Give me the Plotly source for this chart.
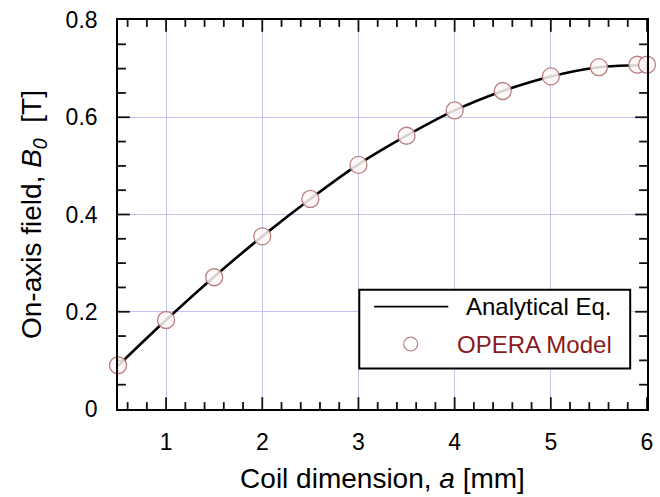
import plotly.graph_objects as go

# Coil dimension a [mm] and on-axis field B0 [T]
coil_a = [0.5, 1.0, 1.5, 2.0, 2.5, 3.0, 3.5, 4.0, 4.5, 5.0, 5.5, 5.9, 6.0]
b0_analytical = [0.089, 0.183, 0.272, 0.355, 0.432, 0.503, 0.562, 0.614, 0.654, 0.684, 0.703, 0.707, 0.708]
b0_opera = [0.090, 0.183, 0.271, 0.355, 0.432, 0.502, 0.562, 0.614, 0.654, 0.684, 0.703, 0.708, 0.708]

x_major = [1, 2, 3, 4, 5, 6]
y_major = [0, 0.2, 0.4, 0.6, 0.8]
y_labels = ["0", "0.2", "0.4", "0.6", "0.8"]
x_minor = [round(0.6 + 0.2 * i, 1) for i in range(27) if round(0.6 + 0.2 * i, 1) % 1 != 0]
y_minor = [round(0.05 * i, 2) for i in range(1, 16) if i % 4 != 0]

X_RANGE = [0.5, 6.0]
Y_RANGE = [0.0, 0.8]

FONT = "Liberation Sans, Arial, sans-serif"
GRID = "#c4c4f4"
OPERA_TEXT = "#8b1a1a"
MARKER_EDGE = "#b98080"

W, H = 660, 497
M_L, M_R, M_T, M_B = 118, 7, 14, 88
PLOT_W = W - M_L - M_R
PLOT_H = H - M_T - M_B


def px_x(p):
    """Horizontal pixel position -> paper coordinate."""
    return (p - M_L) / PLOT_W


def px_y(p):
    """Vertical pixel position (from top) -> paper coordinate."""
    return (H - M_B - p) / PLOT_H


# Tick lengths in pixels converted to axis units
def dx(px):
    return px * (X_RANGE[1] - X_RANGE[0]) / PLOT_W


def dy(px):
    return px * (Y_RANGE[1] - Y_RANGE[0]) / PLOT_H


# Inward tick marks on all four frame edges, as one polyline with gaps
tick_x, tick_y = [], []
for vals, length in ((x_major, 12), (x_minor, 7)):
    for v in vals:
        tick_x += [v, v, None, v, v, None]
        tick_y += [Y_RANGE[0], Y_RANGE[0] + dy(length), None,
                   Y_RANGE[1], Y_RANGE[1] - dy(length), None]
for vals, length in ((y_major[1:-1], 12), (y_minor, 8)):
    for v in vals:
        tick_x += [X_RANGE[0], X_RANGE[0] + dx(length), None,
                   X_RANGE[1], X_RANGE[1] - dx(length), None]
        tick_y += [v, v, None, v, v, None]

fig = go.Figure()
fig.add_trace(go.Scatter(
    x=tick_x, y=tick_y, mode="lines", line=dict(color="#111111", width=1.8),
    hoverinfo="skip", showlegend=False, connectgaps=False,
))
fig.add_trace(go.Scatter(
    x=coil_a, y=b0_analytical, mode="lines", name="Analytical Eq.",
    line=dict(color="black", width=2.6, shape="spline"),
    showlegend=False,
))
fig.add_trace(go.Scatter(
    x=coil_a, y=b0_opera, mode="markers", name="OPERA Model",
    marker=dict(symbol="circle", size=17, color="rgba(255,247,247,0.85)",
                line=dict(color=MARKER_EDGE, width=1.3)),
    cliponaxis=False, showlegend=False,
))

axis_common = dict(
    showline=True, linecolor="black", linewidth=1.6, mirror=True,
    ticks="", showgrid=True, gridcolor=GRID, gridwidth=1, zeroline=False,
    tickfont=dict(family=FONT, size=23, color="black"),
)

fig.update_xaxes(
    range=X_RANGE, tickvals=x_major, ticktext=[str(v) for v in x_major],
    ticklabelstandoff=12,
    title=dict(text="Coil dimension, <i>a</i> [mm]",
               font=dict(family=FONT, size=28, color="black"), standoff=14),
    **axis_common,
)
fig.update_yaxes(
    range=Y_RANGE, tickvals=y_major, ticktext=y_labels,
    ticklabelstandoff=14,
    title=dict(text="On-axis field, <i>B</i><sub><i>0</i></sub>  [T]",
               font=dict(family=FONT, size=28, color="black"), standoff=16),
    **axis_common,
)

# Legend box drawn in paper space
legend_shapes = [
    dict(type="rect", xref="paper", yref="paper",
         x0=px_x(362), x1=px_x(636), y0=px_y(368), y1=px_y(288),
         fillcolor="white", line=dict(color="black", width=2), layer="above"),
    dict(type="line", xref="paper", yref="paper",
         x0=px_x(377), x1=px_x(452), y0=px_y(305), y1=px_y(305),
         line=dict(color="black", width=1.8), layer="above"),
    dict(type="circle", xref="paper", yref="paper",
         x0=px_x(407), x1=px_x(421), y0=px_y(350), y1=px_y(336),
         fillcolor="white", line=dict(color=MARKER_EDGE, width=1.2), layer="above"),
]
legend_labels = [
    dict(text="Analytical Eq.", x=px_x(619), y=px_y(305), color="black"),
    dict(text="OPERA Model", x=px_x(620), y=px_y(343), color=OPERA_TEXT),
]
annotations = [
    dict(text=lab["text"], x=lab["x"], y=lab["y"], xref="paper", yref="paper",
         xanchor="right", yanchor="middle", showarrow=False,
         font=dict(family=FONT, size=24, color=lab["color"]))
    for lab in legend_labels
]

fig.update_layout(
    width=W, height=H,
    margin=dict(l=M_L, r=M_R, t=M_T, b=M_B),
    paper_bgcolor="white", plot_bgcolor="white",
    showlegend=False,
    shapes=legend_shapes,
    annotations=annotations,
)

fig.write_html("out.html")
